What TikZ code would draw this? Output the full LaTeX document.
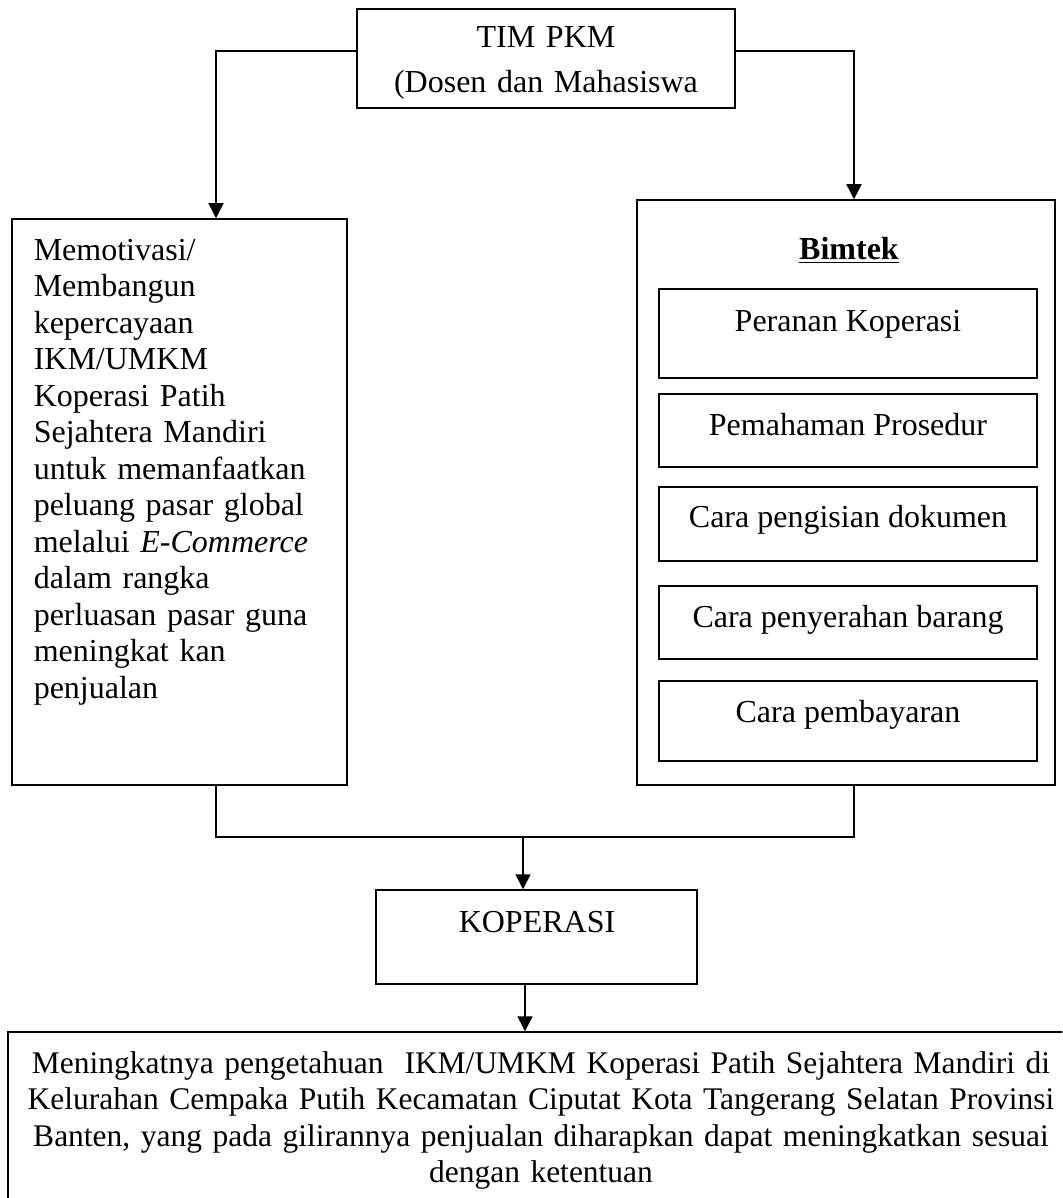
\documentclass[tikz,border=0pt]{standalone}
\usepackage{fontspec}
\setmainfont{Liberation Serif}
\usetikzlibrary{arrows.meta,fit}

\begin{document}
\begin{tikzpicture}[x=0.5pt,y=-0.5pt,line width=0.75pt,
  >={Triangle[length=7.5pt,width=7.5pt]},
  box/.style={draw,inner sep=0pt},
  txt/.style={font=\fontsize{16}{18.25}\selectfont,inner sep=0pt,anchor=base}]
\useasboundingbox (0,0) rectangle (1062,1198);

% === Boxes ===
\node[box,fit={(357,9) (735,108)}] (tim) {};
\node[box,fit={(12,219) (347,785)}] (motiv) {};
\node[box,fit={(637,200) (1055,785)}] (bimtek) {};
\node[box,fit={(376,890) (697,984)}] (kop) {};
% bottom box runs past the page edge
\begin{scope}
\clip (0,0) rectangle (1062,1198);
\node[box,fit={(8,1032) (1074,1240)}] (hasil) {};
\end{scope}

% materi bimtek
\foreach \t/\b [count=\i] in {289/378,394/467,487/561,586/659,681/761}
  \node[box,fit={(659,\t) (1037,\b)}] (m\i) {};

% === Texts ===
\node[txt,text width=180pt,align=center] (timtxt) at (546,48)
  {TIM PKM\\[4.25pt](Dosen dan Mahasiswa};
\node[txt,text width=160pt,align=left,anchor=base west] (motivtxt) at (33,260)
  {Memotivasi/\\Membangun\\kepercayaan\\IKM/UMKM\\Koperasi Patih\\
   Sejahtera Mandiri\\untuk memanfaatkan\\peluang pasar global\\
   melalui \textit{E-Commerce}\\dalam rangka\\perluasan pasar guna\\
   meningkat kan\\penjualan};
\node[txt] (bimtxt) at (849,259) {\underline{\textbf{Bimtek}}};
\foreach \y/\s [count=\i] in {331/Peranan Koperasi,435/Pemahaman Prosedur,
    527/Cara pengisian dokumen,627/Cara penyerahan barang,722/Cara pembayaran}
  \node[txt] (mt\i) at (848,\y) {\s};
\node[txt] (koptxt) at (537,932) {KOPERASI};
\node[txt,font=\fontsize{15.75}{18.25}\selectfont,text width=525pt,align=center]
  (hasiltxt) at (541,1073)
  {Meningkatnya pengetahuan\ \ IKM/UMKM Koperasi Patih Sejahtera Mandiri di\\
   Kelurahan Cempaka Putih Kecamatan Ciputat Kota Tangerang Selatan Provinsi\\
   Banten, yang pada gilirannya penjualan diharapkan dapat meningkatkan sesuai\\
   dengan ketentuan};

% === Connectors ===
\draw[->] (tim.west |- 0,51) -| (motiv.north -| 216,0);
\draw[->] (tim.east |- 0,51) -| (bimtek.north -| 854,0);
\coordinate (join) at (523,837);
\draw (motiv.south -| 216,0) |- (join) -| (bimtek.south -| 854,0);
\draw[->] (join) -- (kop.north -| join);
\draw[->] (kop.south -| 525,0) -- (hasil.north -| 525,0);
\end{tikzpicture}
\end{document}
